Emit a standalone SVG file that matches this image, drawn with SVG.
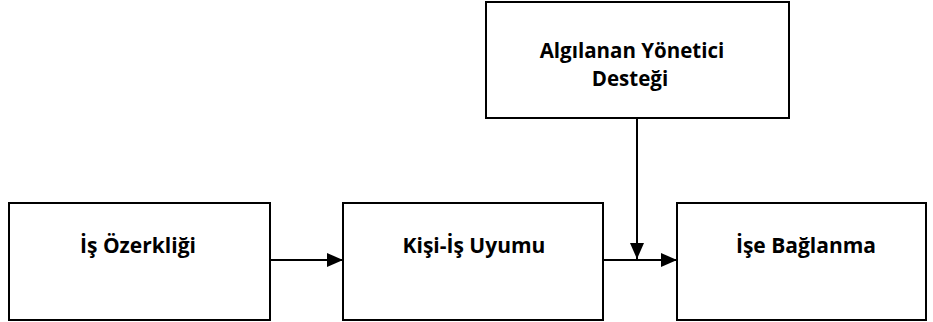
<svg xmlns="http://www.w3.org/2000/svg" width="933" height="322" viewBox="0 0 933 322">
<defs>
<marker id="ah" markerWidth="16" markerHeight="14" refX="16" refY="7" orient="auto" markerUnits="userSpaceOnUse">
<path d="M0,0 L16,7 L0,14 Z" fill="#000"/>
</marker>
<style>
.box{fill:#fff;stroke:#000;stroke-width:2}
.t{font-family:"Open Sans","Liberation Sans",sans-serif;font-weight:bold;font-size:21px;fill:#000;text-anchor:middle}
.s{font-size:20.5px}
.c{stroke:#000;stroke-width:2;fill:none}
</style>
</defs>
<rect width="933" height="322" fill="#fff"/>
<g id="destek">
<rect class="box" x="486" y="2" width="303" height="116"/>
<text class="t s" x="632" y="58">Algılanan Yönetici</text>
<text class="t s" x="630" y="86">Desteği</text>
</g>
<g id="ozerklik">
<rect class="box" x="9" y="203" width="261" height="117"/>
<text class="t" x="138" y="253">İş Özerkliği</text>
</g>
<g id="uyum">
<rect class="box" x="343" y="203" width="260" height="117"/>
<text class="t" x="474" y="253">Kişi-İş Uyumu</text>
</g>
<g id="baglanma">
<rect class="box" x="677" y="203" width="249" height="117"/>
<text class="t" x="806" y="253">İşe Bağlanma</text>
</g>
<g id="connectors">
<line class="c" x1="270" y1="260" x2="343" y2="260" marker-end="url(#ah)"/>
<line class="c" x1="603" y1="260" x2="677" y2="260" marker-end="url(#ah)"/>
<line class="c" x1="637" y1="118" x2="637" y2="259" marker-end="url(#ah)"/>
</g>
</svg>
